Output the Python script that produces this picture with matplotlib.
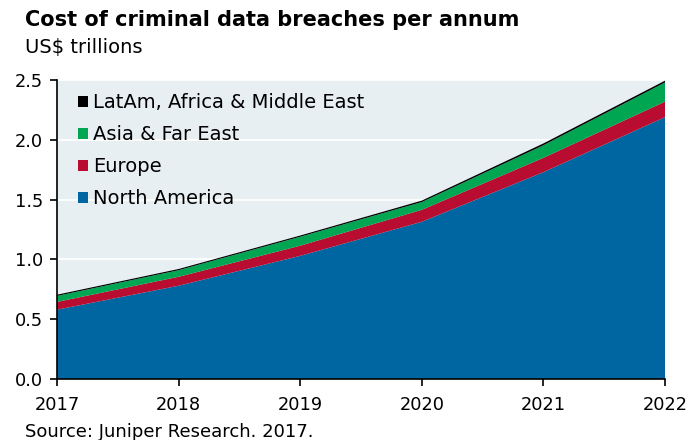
import matplotlib
matplotlib.use("Agg")
import matplotlib.pyplot as plt
from matplotlib.patches import Patch

plt.rcParams['font.family'] = ['DejaVu Sans']

years = [2017, 2018, 2019, 2020, 2021, 2022]
north_america = [0.58, 0.78, 1.03, 1.315, 1.73, 2.19]
europe = [0.065, 0.075, 0.085, 0.10, 0.12, 0.13]
asia_far_east = [0.05, 0.055, 0.075, 0.065, 0.105, 0.16]
latam_africa_me = [0.01, 0.01, 0.01, 0.012, 0.015, 0.015]

labels = ["North America", "Europe", "Asia & Far East", "LatAm, Africa & Middle East"]
colors = ["#0066A1", "#B80C31", "#00A651", "#000000"]

fig = plt.figure(figsize=(6.9, 4.4), dpi=100)
ax = fig.add_axes([0.0826, 0.1386, 0.8812, 0.6794])
ax.set_facecolor("#E8EFF3")

ax.stackplot(years, north_america, europe, asia_far_east, latam_africa_me,
             colors=colors, linewidth=0)

ax.set_xlim(2017, 2022)
ax.set_ylim(0, 2.5)
ax.set_yticks([0, 0.5, 1.0, 1.5, 2.0, 2.5])
ax.set_yticklabels(["0.0", "0.5", "1.0", "1.5", "2.0", "2.5"])
ax.set_xticks(years)
ax.grid(axis='y', color='white', linewidth=1.2)
ax.set_axisbelow(True)
for s in ['top', 'right']:
    ax.spines[s].set_visible(False)
ax.spines['left'].set_linewidth(1.2)
ax.spines['bottom'].set_linewidth(1.2)
ax.tick_params(axis='both', labelsize=12.8, length=5, width=1.2, direction='out')
ax.tick_params(axis='x', pad=7)
ax.tick_params(axis='y', pad=5)

handles = [Patch(facecolor=c, edgecolor='none') for c in colors[::-1]]
leg = ax.legend(handles, labels[::-1], loc='upper left', bbox_to_anchor=(0.015, 0.995),
                frameon=False, fontsize=14, handlelength=0.52, handleheight=0.52,
                handletextpad=0.25, labelspacing=0.67, borderaxespad=0.2)

fig.text(25/690, 1 - 20/440, "Cost of criminal data breaches per annum",
         fontsize=15, fontweight='bold', va='center', ha='left')
fig.text(25/690, 1 - 47/440, "US$ trillions", fontsize=14, va='center', ha='left')
fig.text(25/690, 1 - 432/440, "Source: Juniper Research. 2017.", fontsize=13, va='center', ha='left')

fig.savefig("out.png", dpi=100)
